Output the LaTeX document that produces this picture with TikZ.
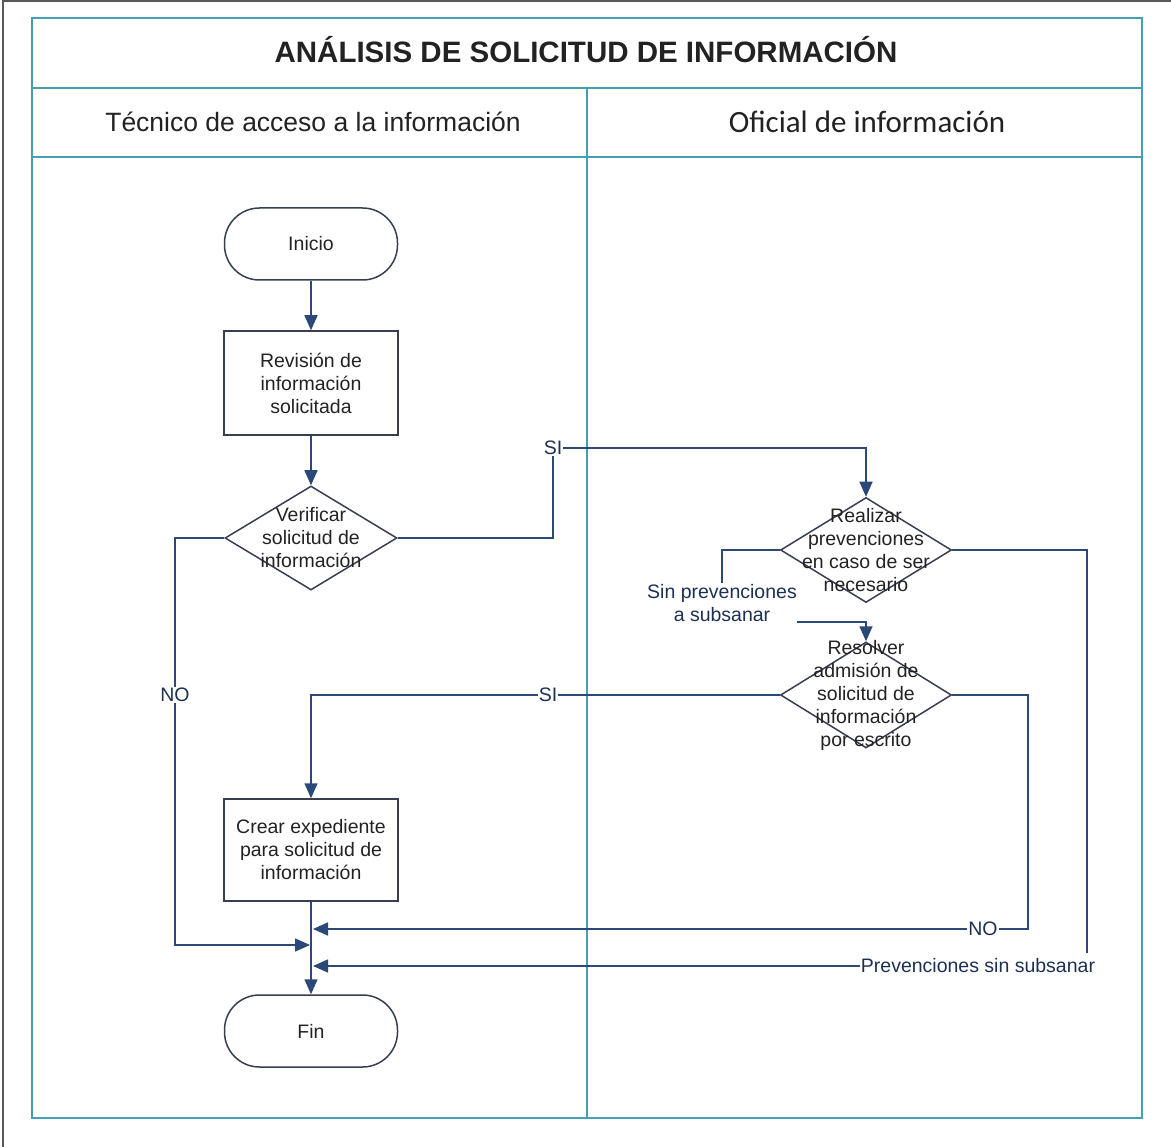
\documentclass[tikz,border=0pt]{standalone}
\usepackage{fontspec}
\setmainfont{Liberation Sans}
\newfontfamily\lanefont{Carlito}
\usetikzlibrary{arrows.meta,shapes.geometric,calc}

\definecolor{lanecol}{RGB}{70,158,176}
\definecolor{flowcol}{RGB}{42,72,120}
\definecolor{shapecol}{RGB}{55,62,80}
\definecolor{txtcol}{RGB}{34,34,34}
\definecolor{labcol}{RGB}{28,48,82}

\begin{document}
\begin{tikzpicture}[x=1pt,y=-1pt,
  every node/.style={font=\fontsize{19.5}{23}\selectfont, text=txtcol},
  terminal/.style={draw=shapecol, line width=1.5pt, rectangle, rounded corners=35pt,
    minimum width=173pt, minimum height=72pt, inner sep=0pt},
  procbox/.style={draw=shapecol, line width=1.5pt, rectangle, align=center,
    minimum width=174pt, minimum height=104pt, inner sep=0pt},
  decision/.style={draw=shapecol, line width=1.5pt, diamond,
    minimum width=172pt, minimum height=104pt, inner sep=0pt},
  inside/.style={align=center, text=txtcol},
  flow/.style={draw=flowcol, line width=1.6pt},
  arr/.style={flow, -{Triangle[width=13pt,length=15pt]}},
  flowlabel/.style={text=labcol, inner sep=1pt, align=center},
  lane/.style={draw=lanecol, line width=1.4pt}]

\useasboundingbox (0,0) rectangle (1171,1147);

% sheet edge
\draw[black!65, line width=1.2pt] (3,1147) -- (3,1) -- (1171,1);

% swimlane frame
\draw[lane] (32,18) rectangle (1142,1118);
\draw[lane] (32,88) -- (1142,88);
\draw[lane] (32,157) -- (1142,157);
\draw[lane] (587,88) -- (587,1118);

\node[font=\fontsize{29.5}{34}\bfseries\selectfont, anchor=base] (title) at (586,63)
  {ANÁLISIS DE SOLICITUD DE INFORMACIÓN};
\node[font=\fontsize{26.5}{30}\selectfont, anchor=base] (lanea) at (313,132)
  {Técnico de acceso a la información};
\node[font=\lanefont\fontsize{31}{36}\selectfont, anchor=base] (laneb) at (867,133)
  {Oficial de información};

% flow shapes
\node[terminal] (inicio) at (311,244) {Inicio};
\node[procbox] (revision) at (311,383) {Revisión de\\información\\solicitada};
\node[decision, label={[inside]center:Verificar\\solicitud de\\información}]
  (verificar) at (311,538) {};
\node[procbox, minimum height=102pt] (crear) at (311,850)
  {Crear expediente\\para solicitud de\\información};
\node[terminal] (fin) at (311,1031) {Fin};

\node[decision, minimum width=171pt, minimum height=105pt,
  label={[inside]center:Realizar\\prevenciones\\en caso de ser\\necesario}]
  (realizar) at (866,550) {};
\node[decision, minimum width=171pt, minimum height=106pt,
  label={[inside]center:Resolver\\admisión de\\solicitud de\\información\\por escrito}]
  (resolver) at (866,695) {};

% branch labels
\node[flowlabel] (si1) at (553,448) {SI};
\node[flowlabel] (no1) at (175,695) {NO};
\node[flowlabel] (sinprev) at (722,603) {Sin prevenciones\\a subsanar};
\node[flowlabel] (si2) at (548,695) {SI};
\node[flowlabel] (no2) at (983,929) {NO};
\node[flowlabel] (prev) at (978,966) {Prevenciones sin subsanar};

% bends and merge points
\coordinate (sinout) at (797,622);
\coordinate (nobend) at (1028,929);
\coordinate (prevbend) at (1087,953);
\coordinate (mergea) at (313,929);
\coordinate (mergeb) at (310,945);
\coordinate (mergec) at (313,966);

% connectors
\draw[arr] (inicio) -- (revision);
\draw[arr] (revision) -- (verificar);
\draw[flow] (verificar.east) -| (si1.south);
\draw[arr] (si1.east) -| (realizar.north);
\draw[flow] (verificar.west) -| (no1.north);
\draw[arr] (no1.south) |- (mergeb);
\draw[flow] (realizar.west) -| (sinprev.north);
\draw[arr] (sinout) -| (resolver.north);
\draw[flow] (resolver.west) -- (si2.east);
\draw[arr] (si2.west) -| (crear.north);
\draw[flow] (resolver.east) -| (nobend) -- (no2.east);
\draw[arr] (no2.west) -- (mergea);
\draw[flow] (realizar.east) -| (prevbend);
\draw[arr] (prev.west) -- (mergec);
\draw[arr] (crear) -- (fin);
\end{tikzpicture}
\end{document}
